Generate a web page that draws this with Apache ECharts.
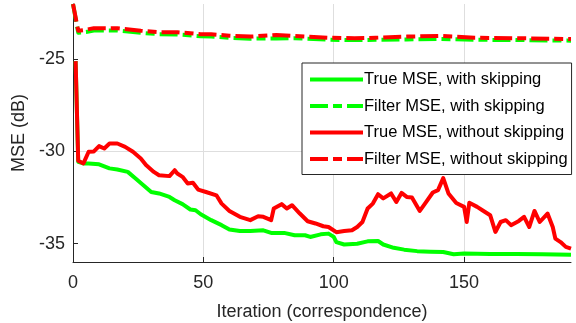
<!DOCTYPE html>
<html>
<head>
<meta charset="UTF-8">
<script src="https://cdn.jsdelivr.net/npm/echarts@6/dist/echarts.min.js"></script>
<style>
  html, body { margin: 0; padding: 0; background: #fff; }
  #chart { width: 576px; height: 323px; }
</style>
</head>
<body>
<div id="chart"></div>
<script>
// values
const trueSkipIter = [1, 2, 4, 6, 10, 14, 17, 21, 24, 27, 30, 33, 37, 39, 42, 45, 47, 49, 53, 57, 60, 64, 68, 73, 76, 81, 85, 89, 91, 95, 98, 100, 101, 104, 109, 113, 117, 119, 123, 127, 132, 137, 142, 146, 150, 160, 170, 180, 191];
const trueSkipMse = [-25.1, -30.56, -30.65, -30.65, -30.7, -30.92, -30.98, -31.11, -31.47, -31.83, -32.2, -32.28, -32.47, -32.65, -32.86, -33.15, -33.19, -33.41, -33.73, -34.0, -34.24, -34.32, -34.32, -34.28, -34.42, -34.42, -34.55, -34.55, -34.64, -34.5, -34.46, -34.64, -34.92, -35.05, -35.01, -34.88, -34.86, -35.05, -35.23, -35.33, -35.41, -35.44, -35.46, -35.58, -35.54, -35.56, -35.56, -35.58, -35.6];

const filterIter = [0, 2, 5, 8, 17, 26, 33, 40, 49, 53, 60, 68, 78, 85, 98, 108, 116, 128, 141, 154, 173, 191];
const filterSkipMse = [-22.0, -23.56, -23.52, -23.44, -23.44, -23.56, -23.64, -23.65, -23.75, -23.76, -23.83, -23.88, -23.87, -23.86, -23.94, -23.96, -23.94, -23.92, -23.9, -23.94, -23.96, -23.99];
const filterNoSkipMse = [-22.0, -23.45, -23.4, -23.31, -23.31, -23.45, -23.53, -23.53, -23.64, -23.64, -23.72, -23.77, -23.68, -23.73, -23.83, -23.86, -23.83, -23.77, -23.73, -23.83, -23.86, -23.9];

const trueNoSkipIter = [1, 2, 4, 6, 8, 10, 12, 14, 17, 20, 23, 26, 28, 31, 33, 37, 39, 40, 42, 44, 46, 48, 51, 55, 57, 60, 64, 68, 71, 73, 76, 77, 80, 82, 84, 87, 90, 93, 96, 98, 101, 104, 107, 109, 111, 113, 115, 117, 119, 122, 124, 126, 128, 130, 133, 135, 138, 140, 142, 144, 147, 150, 151, 152, 155, 157, 160, 162, 164, 166, 168, 171, 173, 175, 177, 179, 182, 184, 185, 187, 189, 191];
const trueNoSkipMse = [-25.1, -30.5, -30.65, -30.02, -30.0, -29.71, -29.84, -29.57, -29.57, -29.75, -30.02, -30.38, -30.74, -31.11, -31.29, -31.34, -31.02, -31.2, -31.38, -31.74, -31.7, -32.07, -32.2, -32.38, -32.83, -33.23, -33.55, -33.73, -33.52, -33.55, -33.73, -33.1, -32.86, -33.1, -32.92, -33.37, -33.79, -33.91, -34.06, -34.1, -34.38, -34.32, -34.28, -34.1, -33.83, -33.1, -32.83, -32.32, -32.55, -32.28, -32.74, -32.25, -32.47, -32.5, -33.23, -32.83, -32.23, -32.1, -31.45, -32.28, -32.8, -33.01, -33.83, -32.79, -33.01, -33.19, -33.46, -34.37, -33.83, -33.73, -34.0, -33.77, -33.55, -34.1, -33.23, -33.83, -33.37, -34.1, -34.73, -34.92, -35.18, -35.27];

const seriesNames = [
  'True MSE, with skipping',
  'Filter MSE, with skipping',
  'True MSE, without skipping',
  'Filter MSE, without skipping'
];
const yTicks = [-35, -30, -25];
const xTicks = [0, 50, 100, 150];

const pairs = (xs, ys) => xs.map((x, i) => [x, ys[i]]);

const FONT = 'Liberation Sans';
const INK = '#262626';
const GRID = '#dedede';
const DASH = [18, 5, 9, 5];
const NONE = 'rgba(0,0,0,0)';

function line(name, data, color, dashed) {
  return {
    name: name,
    type: 'line',
    data: data,
    symbol: 'none',
    smooth: false,
    animation: false,
    lineStyle: { color: color, width: 4, type: dashed ? DASH : 'solid', cap: 'butt', join: 'round' },
    itemStyle: { color: color }
  };
}

const chart = echarts.init(document.getElementById('chart'), null, { renderer: 'canvas' });
chart.setOption({
  animation: false,
  textStyle: { fontFamily: FONT, color: INK },
  grid: { left: 73, right: 5, top: 4, bottom: 61, outerBoundsMode: 'none', containLabel: false },
  xAxis: {
    type: 'value', min: 0, max: 191, interval: 50,
    name: 'Iteration (correspondence)', nameLocation: 'middle', nameGap: 41,
    nameTextStyle: { fontFamily: FONT, fontSize: 18, color: INK },
    axisLine: { show: true, onZero: false, lineStyle: { color: INK, width: 1 } },
    axisTick: { show: true, inside: true, length: 5, customValues: xTicks, lineStyle: { color: INK } },
    axisLabel: { customValues: xTicks, fontFamily: FONT, fontSize: 18, color: INK, margin: 12 },
    splitLine: { show: true, lineStyle: { color: [GRID, GRID, GRID, GRID, NONE], width: 1 } }
  },
  yAxis: {
    type: 'value', min: -36, max: -22, interval: 1,
    name: 'MSE (dB)', nameLocation: 'middle', nameGap: 35, nameRotate: 90,
    nameTextStyle: { fontFamily: FONT, fontSize: 18, color: INK },
    axisLine: { show: true, onZero: false, lineStyle: { color: INK, width: 1 } },
    axisTick: { show: true, inside: true, length: 5, customValues: yTicks, lineStyle: { color: INK } },
    axisLabel: { customValues: yTicks, fontFamily: FONT, fontSize: 18, color: INK, margin: 8 },
    splitLine: { show: true, lineStyle: { color: [NONE, GRID, NONE, NONE, NONE], width: 1 } }
  },
  legend: {
    left: 302, top: 63,
    orient: 'vertical',
    data: seriesNames,
    itemWidth: 53, itemHeight: 14, itemGap: 9.5,
    padding: [8, 4, 7, 6],
    backgroundColor: '#ffffff',
    borderColor: INK, borderWidth: 1, borderRadius: 0,
    itemStyle: { opacity: 0 },
    lineStyle: { width: 4 },
    textStyle: { fontFamily: FONT, fontSize: 16.5, color: '#000', padding: [0, 0, 0, -4] }
  },
  series: [
    line(seriesNames[0], pairs(trueSkipIter, trueSkipMse), '#00ff00', false),
    line(seriesNames[1], pairs(filterIter, filterSkipMse), '#00ff00', true),
    line(seriesNames[2], pairs(trueNoSkipIter, trueNoSkipMse), '#ff0000', false),
    line(seriesNames[3], pairs(filterIter, filterNoSkipMse), '#ff0000', true)
  ]
});
</script>
</body>
</html>
